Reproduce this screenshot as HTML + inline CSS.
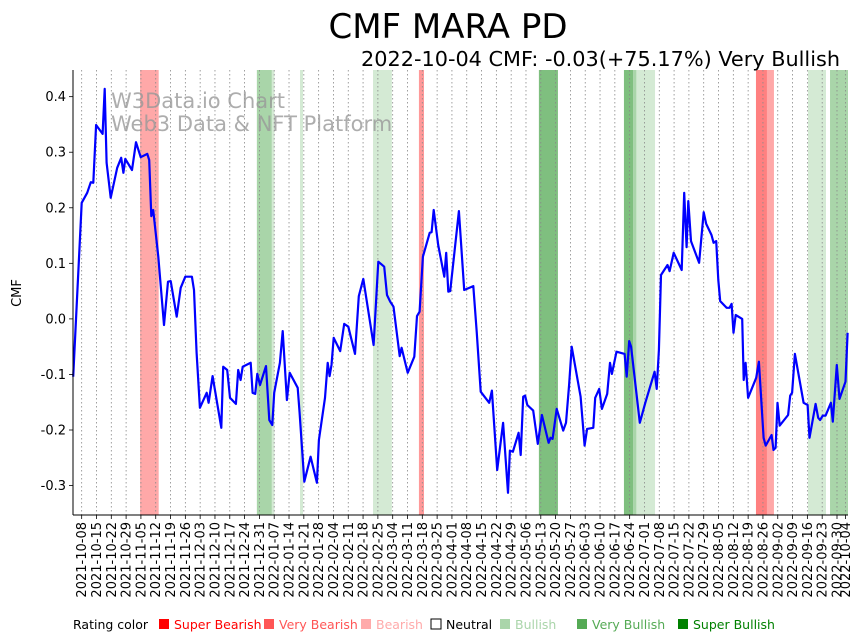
<!DOCTYPE html>
<html><head><meta charset="utf-8"><style>
body{margin:0;background:#fff;}
svg{display:block;font-family:"DejaVu Sans","Liberation Sans",sans-serif;}
</style></head><body>
<svg id="chart" width="867" height="641" viewBox="0 0 867 641" xmlns="http://www.w3.org/2000/svg">
<rect width="867" height="641" fill="#fff"/>
<g id="bands"></g>
<g id="grid"></g>
<text x="111" y="108" font-size="21" fill="#999" fill-opacity="0.8">W3Data.io Chart</text>
<text x="111" y="131" font-size="21" fill="#999" fill-opacity="0.8">Web3 Data &amp; NFT Platform</text>
<g id="series"></g>
<g id="axes"></g>
<text x="448" y="38" font-size="34" text-anchor="middle" fill="#000">CMF MARA PD</text>
<text x="840" y="66" font-size="20.8" text-anchor="end" fill="#000">2022-10-04 CMF: -0.03(+75.17%) Very Bullish</text>
<text transform="translate(21,293) rotate(-90)" font-size="13" text-anchor="middle">CMF</text>
<g id="legend"></g>
</svg>
<script>
// Data: day offsets from 2021-10-08, CMF values
const days = [-4,0,2.6,4.3,5.5,6.8,9.9,10.9,11.8,13.7,16.8,18.7,19.7,20.6,23.8,25.7,27.9,31,31.9,32.9,33.8,36.2,38.9,40.8,42.1,44.9,46.8,49,52.1,53.1,54.3,55.9,59.1,60,61.9,66,66.9,68.8,70.1,72.9,74,75.1,76.1,79.9,80.8,82,83,84.3,87.1,88.7,90.1,91,93.7,95,97,98.3,102.1,103,105.2,108.2,111.2,112.1,115,116.3,117.2,118.1,119.1,122.2,124.1,126,129.2,131,133.1,138,140.2,143,144.3,145.8,147.4,150.3,151.2,152.5,154.1,157.2,158.5,159.7,161.3,164.5,165.4,166.4,168.5,171.4,172.3,173.3,174.2,175.8,178.3,180.8,185.1,186.7,188.6,192.6,193.9,196.4,199.2,201.5,202.4,203.8,206.5,207.5,208.7,209.6,210.6,213.4,215.6,217.5,220.7,221.6,222.6,224.5,227.6,228.9,230.4,231.6,235.8,237.7,238.9,241.8,242.7,244.6,245.9,248.4,249.7,250.6,252.8,256.6,257.6,258.8,259.7,263.8,266.4,270.8,271.8,272.8,273.8,276.9,277.9,279.8,283.6,284.8,285.9,286.7,288,291.8,294,295.2,297.7,298.7,299.9,300.9,301.8,304.8,306.2,307.2,308.1,309.1,312.2,312.9,313.8,315,318.8,320.1,322.3,323.3,326.1,327,328,328.9,329.9,333.9,334.9,335.8,337.1,341.2,343.1,344,346.9,348.1,349,350.3,351.6,354.1,355,356.9,358.2,361,362];
const cmf = [-0.104,0.209,0.227,0.246,0.245,0.349,0.333,0.414,0.281,0.218,0.272,0.290,0.263,0.288,0.268,0.318,0.291,0.297,0.286,0.185,0.196,0.112,-0.011,0.067,0.068,0.004,0.056,0.076,0.076,0.052,-0.061,-0.160,-0.133,-0.151,-0.103,-0.196,-0.086,-0.092,-0.142,-0.153,-0.092,-0.110,-0.086,-0.079,-0.133,-0.135,-0.099,-0.119,-0.085,-0.182,-0.191,-0.133,-0.079,-0.022,-0.146,-0.097,-0.124,-0.169,-0.293,-0.248,-0.295,-0.218,-0.142,-0.079,-0.103,-0.083,-0.034,-0.058,-0.009,-0.014,-0.063,0.041,0.072,-0.047,0.103,0.094,0.043,0.031,0.022,-0.067,-0.052,-0.072,-0.097,-0.068,0.005,0.013,0.112,0.155,0.156,0.196,0.133,0.076,0.119,0.049,0.050,0.106,0.194,0.052,0.059,-0.023,-0.131,-0.151,-0.129,-0.272,-0.187,-0.313,-0.237,-0.239,-0.205,-0.245,-0.140,-0.138,-0.155,-0.165,-0.225,-0.173,-0.223,-0.214,-0.216,-0.162,-0.201,-0.187,-0.119,-0.050,-0.140,-0.228,-0.198,-0.196,-0.142,-0.126,-0.162,-0.135,-0.079,-0.099,-0.059,-0.063,-0.104,-0.040,-0.050,-0.187,-0.151,-0.095,-0.126,-0.056,0.079,0.097,0.086,0.119,0.088,0.227,0.129,0.212,0.140,0.101,0.192,0.171,0.151,0.137,0.140,0.070,0.032,0.020,0.020,0.027,-0.025,0.007,0.000,-0.110,-0.079,-0.142,-0.106,-0.077,-0.214,-0.228,-0.209,-0.236,-0.232,-0.151,-0.192,-0.173,-0.138,-0.133,-0.063,-0.151,-0.155,-0.214,-0.153,-0.178,-0.182,-0.174,-0.174,-0.151,-0.185,-0.083,-0.144,-0.113,-0.025];
const bandStart = [27.6,82.8,89.9,103.2,137.7,159.4,216.1,256.3,260.6,262.2,318.7,323.9,343.3,353.7];
const bandEnd   = [36.4,89.9,91.1,104.6,146.6,161.8,225.1,260.6,262.2,271,323.9,327.2,351.8,362.2];
const bandRating = ["bearish","very-bullish","bullish","bullish","bullish","bearish-strong","super-bullish","super-bullish","very-bullish","bullish","very-bearish","bearish","bullish","very-bullish"];
const yTicks = [-0.3,-0.2,-0.1,0.0,0.1,0.2,0.3,0.4];
const legendLabels = ["Super Bearish","Very Bearish","Bearish","Neutral","Bullish","Very Bullish","Super Bullish"];
const legendColors = ["#ff0000","#ff5555","#ffaaaa","#ffffff","#aad5aa","#55aa55","#008000"];

const NS="http://www.w3.org/2000/svg";
const L=73,R=848,T=70,B=515, D0=-4.1, D1=362.2, V0=-0.353, V1=0.448;
const xs=d=>L+(d-D0)/(D1-D0)*(R-L);
const ys=v=>B-(v-V0)/(V1-V0)*(B-T);
const bandColor={"bearish":"#ffa8a8","bearish-strong":"#ff9999","very-bearish":"#ff8080","bullish":"#d4ead4","very-bullish":"#a9d5a9","super-bullish":"#7fbf7f"};
function el(tag,attrs,parent){const e=document.createElementNS(NS,tag);for(const k in attrs)e.setAttribute(k,attrs[k]);parent.appendChild(e);return e;}

const gB=document.getElementById('bands');
bandStart.forEach((s,i)=>{
  const r=el('rect',{x:xs(s),y:T,width:xs(bandEnd[i])-xs(s),height:B-T,fill:bandColor[bandRating[i]]},gB);
  
  
});

const gG=document.getElementById('grid'), gA=document.getElementById('axes');
const start=new Date(Date.UTC(2021,9,8));
function fmt(dt){return dt.toISOString().slice(0,10);}
const tickDays=[];for(let d=0;d<=357;d+=7)tickDays.push(d);tickDays.push(361);
tickDays.forEach(d=>{
  const x=xs(d);
  const gl=el('line',{x1:x,x2:x,y1:T,y2:B,stroke:'#888','stroke-width':0.8,'stroke-dasharray':'1.5,2.5'},gG);
  
  
  const tk=el('line',{x1:x,x2:x,y1:B,y2:B+4,stroke:'#000','stroke-width':0.8},gA);
  
  
  const dt=new Date(start.getTime()+d*86400000);
  const t=el('text',{transform:`translate(${x+4.5},${B+7}) rotate(-90)`,'font-size':13,'text-anchor':'end'},gA);
  t.textContent=fmt(dt);
  
  
});
yTicks.forEach(v=>{
  const y=ys(v);
  const tk=el('line',{x1:L-4,x2:L,y1:y,y2:y,stroke:'#000','stroke-width':0.8},gA);
  
  
  const t=el('text',{x:L-7,y:y+4.5,'font-size':13,'text-anchor':'end'},gA);
  t.textContent=v.toFixed(1);
  
  
});
const sp1=el('line',{x1:L,x2:L,y1:T,y2:B,stroke:'#000','stroke-width':1},gA);


const sp2=el('line',{x1:L,x2:R,y1:B,y2:B,stroke:'#000','stroke-width':1},gA);



const gS=document.getElementById('series');
const pts=days.map((d,i)=>xs(d).toFixed(1)+','+ys(cmf[i]).toFixed(1)).join(' ');
const pl=el('polyline',{points:pts,fill:'none',stroke:'#0000ff','stroke-width':2.2,'stroke-linejoin':'round'},gS);



const gL=document.getElementById('legend');
const lt=el('text',{x:73,y:629,'font-size':12.5,fill:'#000'},gL);
lt.textContent='Rating color';


const lx=[159,264,361,431,500,577,678];
legendLabels.forEach((lab,i)=>{
  const sq=el('rect',{x:lx[i],y:619,width:10,height:10,fill:legendColors[i],stroke:i==3?'#000':'none','stroke-width':1},gL);
  
  
  const t=el('text',{x:lx[i]+15,y:629,'font-size':12.5,fill:i==3?'#000':legendColors[i]},gL);
  t.textContent=lab;
  
  
});
</script>
</body></html>
